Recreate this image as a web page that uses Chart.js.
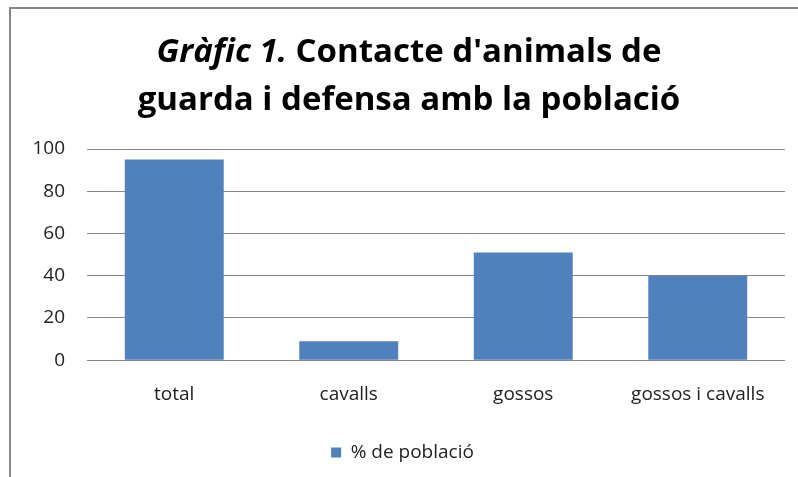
<!DOCTYPE html>
<html><head><meta charset="utf-8">
<script src="https://cdn.jsdelivr.net/npm/chart.js@4/dist/chart.umd.min.js"></script>
<style>html,body{margin:0;padding:0;background:#fff}#wrap{width:798px;height:477px;position:relative}</style>
</head><body><div id="wrap"><canvas id="c" width="798" height="477"></canvas></div>
<script>
const categories = ["total", "cavalls", "gossos", "gossos i cavalls"];
const seriesName = "% de població";
const values = [95, 9, 51, 40];
const yTicks = [0, 20, 40, 60, 80, 100];

const FONT = "'Open Sans', Lato, 'Liberation Sans', sans-serif";

const framePlugin = {
  id: 'frame',
  beforeDraw(chart) {
    const ctx = chart.ctx;
    ctx.save();
    ctx.fillStyle = '#fff';
    ctx.fillRect(0, 0, chart.width, chart.height);
    ctx.strokeStyle = '#878787';
    ctx.lineWidth = 2;
    ctx.beginPath();
    ctx.moveTo(10, 477);
    ctx.lineTo(10, 8);
    ctx.lineTo(798, 8);
    ctx.stroke();
    ctx.restore();
  },
  afterDraw(chart) {
    const ctx = chart.ctx;
    ctx.save();
    ctx.fillStyle = '#000';
    ctx.textBaseline = 'middle';
    const l1a = 'Gràfic 1.', l1b = ' Contacte d\'animals de';
    ctx.font = "italic bold 33px " + FONT;
    const wa = ctx.measureText(l1a).width;
    ctx.font = "bold 33px " + FONT;
    const wb = ctx.measureText(l1b).width;
    const cx = 409;
    let x = cx - (wa + wb) / 2;
    ctx.font = "italic bold 33px " + FONT;
    ctx.textAlign = 'left';
    ctx.fillText(l1a, x, 53);
    ctx.font = "bold 33px " + FONT;
    ctx.fillText(l1b, x + wa, 53);
    ctx.textAlign = 'center';
    ctx.fillText('guarda i defensa amb la població', cx, 101);
    ctx.restore();
  }
};

new Chart(document.getElementById('c'), {
  type: 'bar',
  data: {
    labels: categories,
    datasets: [{
      label: seriesName,
      data: values,
      backgroundColor: '#4F81BD',
      borderWidth: 0,
      categoryPercentage: 1,
      barPercentage: 0.567
    }]
  },
  options: {
    responsive: false,
    animation: false,
    devicePixelRatio: 1,
    layout: { padding: { top: 149, left: 20, right: 13, bottom: 5 } },
    plugins: {
      title: { display: false },
      tooltip: { enabled: false },
      legend: {
        position: 'bottom',
        labels: {
          boxWidth: 10, boxHeight: 10, color: '#222',
          font: { family: FONT, size: 19 },
          padding: 14
        }
      }
    },
    scales: {
      x: {
        grid: { display: false, drawTicks: false },
        border: { display: false },
        ticks: { color: '#222', font: { family: FONT, size: 19 }, padding: 23 }
      },
      y: {
        min: 0, max: 100,
        afterBuildTicks(scale) { scale.ticks = yTicks.map(v => ({ value: v })); },
        afterFit(scale) { scale.width = 67; },
        grid: { color: '#878787', lineWidth: 1, drawTicks: false },
        border: { display: false },
        ticks: { color: '#222', font: { family: FONT, size: 19 }, padding: 22 }
      }
    }
  },
  plugins: [framePlugin]
});
</script></body></html>
